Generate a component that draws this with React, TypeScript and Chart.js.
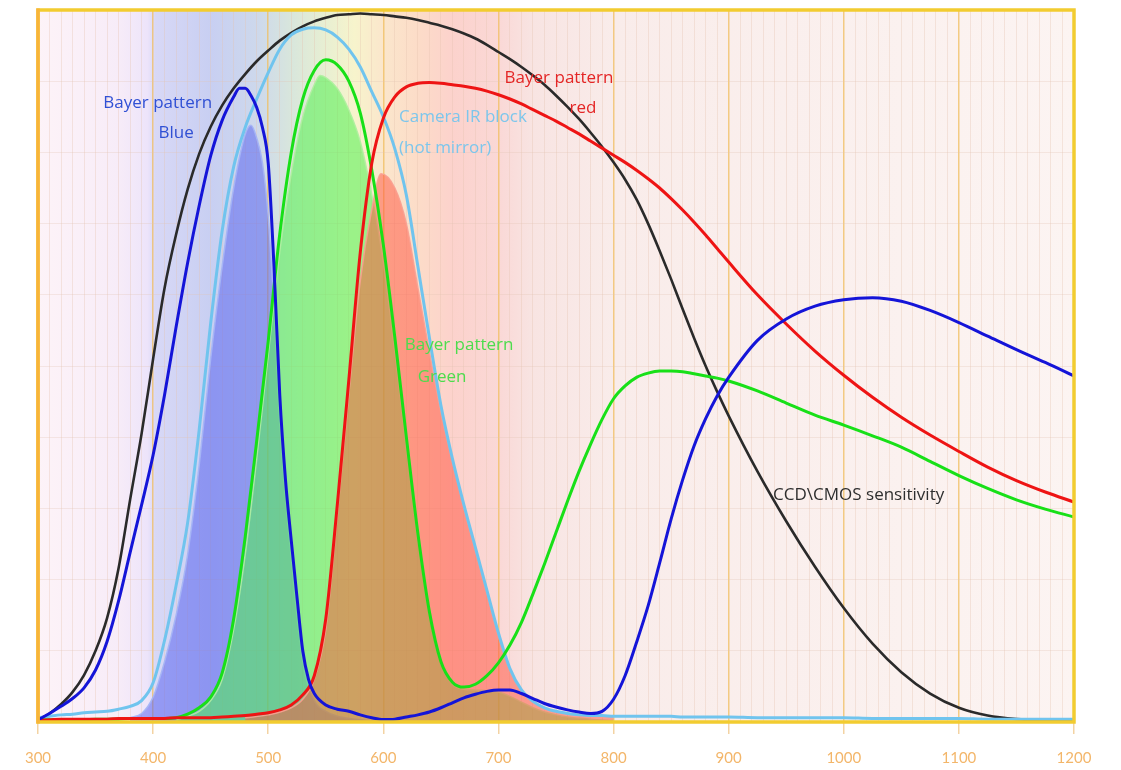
import React, { useEffect, useRef } from "react";
import { Chart, registerables } from "chart.js";

Chart.register(...registerables);

// Wavelength grid (nm) shared by the sensor, IR block, green and red curves
const wavelengths = [
  300, 310, 320, 330, 340, 350, 360, 370, 380, 390,
  400, 410, 420, 430, 440, 450, 460, 470, 480, 490,
  500, 510, 520, 530, 540, 550, 560, 570, 580, 590,
  600, 610, 620, 630, 640, 650, 660, 670, 680, 690,
  700, 710, 720, 730, 740, 750, 760, 770, 780, 790,
  800, 810, 820, 830, 840, 850, 860, 870, 880, 890,
  900, 925, 950, 975, 1000, 1025, 1050, 1075, 1100, 1125,
  1150, 1175, 1200,
];

// CCD\CMOS sensitivity (black)
const sensorCurve = [
  0.3, 1.2, 2.5, 4.2, 6.6, 10.0, 14.6, 21.6, 31.2, 40.5,
  51.0, 61.0, 68.5, 74.8, 79.8, 83.6, 86.6, 89.0, 91.0, 92.8,
  94.3, 95.7, 96.8, 97.7, 98.4, 98.9, 99.3, 99.4, 99.5, 99.4,
  99.3, 99.1, 98.9, 98.6, 98.2, 97.8, 97.3, 96.7, 96.0, 95.1,
  94.1, 93.1, 92.0, 90.8, 89.5, 88.0, 86.4, 84.7, 82.8, 80.8,
  78.6, 76.2, 73.4, 70.0, 66.2, 62.2, 58.0, 53.9, 50.0, 46.4,
  43.0, 35.2, 28.2, 21.8, 16.0, 11.0, 7.0, 4.0, 2.0, 0.9,
  0.4, 0.2, 0.1,
];

// Camera IR block (hot mirror) (light blue)
const irBlockCurve = [
  0.6, 0.8, 1.0, 1.1, 1.3, 1.4, 1.5, 1.8, 2.2, 3.0,
  5.5, 11.5, 19.2, 28.0, 41.0, 56.0, 69.0, 78.0, 83.5, 87.5,
  91.2, 94.5, 96.5, 97.3, 97.5, 97.2, 96.2, 94.5, 92.0, 88.5,
  85.0, 80.5, 74.0, 64.0, 54.0, 44.5, 37.0, 30.5, 24.5, 18.5,
  12.5, 7.5, 4.5, 2.9, 2.0, 1.5, 1.2, 1.0, 0.9, 0.9,
  0.8, 0.8, 0.8, 0.8, 0.8, 0.8, 0.7, 0.7, 0.7, 0.7,
  0.7, 0.6, 0.6, 0.6, 0.6, 0.5, 0.5, 0.5, 0.5, 0.4,
  0.4, 0.4, 0.4,
];

// Bayer pattern Green
const bayerGreen = [
  0.3, 0.3, 0.3, 0.3, 0.3, 0.4, 0.4, 0.4, 0.5, 0.5,
  0.5, 0.5, 0.6, 1.1, 2.0, 3.5, 6.9, 14.5, 26.0, 39.5,
  53.5, 68.5, 80.0, 87.5, 91.5, 93.0, 92.3, 90.0, 85.5, 77.5,
  67.0, 54.0, 40.0, 26.5, 15.5, 8.5, 5.6, 4.9, 5.3, 6.5,
  8.3, 10.8, 14.0, 18.0, 22.2, 26.6, 31.0, 35.2, 39.0, 42.5,
  45.4, 47.2, 48.4, 49.0, 49.3, 49.3, 49.2, 48.9, 48.6, 48.3,
  47.9, 46.5, 44.8, 43.1, 41.7, 40.2, 38.6, 36.6, 34.6, 32.8,
  31.2, 29.9, 28.8,
];

// Bayer pattern red
const bayerRed = [
  0.2, 0.3, 0.4, 0.4, 0.4, 0.4, 0.4, 0.5, 0.5, 0.5,
  0.5, 0.5, 0.6, 0.6, 0.6, 0.6, 0.7, 0.8, 0.9, 1.1,
  1.3, 1.7, 2.4, 3.8, 6.5, 14.5, 30.5, 48.0, 66.0, 78.5,
  84.8, 87.8, 89.2, 89.7, 89.8, 89.7, 89.5, 89.3, 89.0, 88.6,
  88.1, 87.5, 86.8, 86.0, 85.2, 84.4, 83.5, 82.6, 81.6, 80.6,
  79.6, 78.6, 77.5, 76.3, 75.0, 73.5, 71.9, 70.2, 68.4, 66.5,
  64.6, 60.0, 55.9, 52.1, 48.7, 45.6, 42.8, 40.3, 38.0, 35.8,
  33.9, 32.3, 30.9,
];

// Bayer pattern Blue (own, finer grid around its sharp fall)
const blueNm = [
  300, 310, 320, 330, 340, 350, 360, 370, 380, 390,
  400, 410, 420, 430, 440, 450, 460, 470, 475, 480,
  485, 490, 495, 500, 505, 510, 515, 520, 525, 530,
  535, 540, 550, 560, 570, 580, 590, 600, 610, 620,
  630, 640, 650, 660, 670, 680, 690, 700, 710, 720,
  730, 740, 750, 760, 770, 780, 790, 800, 810, 820,
  830, 840, 850, 860, 870, 880, 890, 900, 925, 950,
  975, 1000, 1025, 1050, 1075, 1100, 1125, 1150, 1175, 1200,
];
const bayerBlue = [
  0.3, 1.2, 2.2, 3.3, 4.8, 7.3, 11.3, 17.0, 23.8, 30.5,
  37.5, 46.0, 55.5, 64.5, 72.5, 79.5, 84.5, 87.8, 89.0, 89.0,
  88.0, 86.3, 83.5, 78.5, 64.0, 46.0, 34.0, 25.5, 17.5, 10.0,
  6.0, 4.0, 2.4, 1.8, 1.5, 1.0, 0.6, 0.35, 0.4, 0.7,
  1.0, 1.4, 2.0, 2.7, 3.4, 3.9, 4.3, 4.5, 4.5, 4.0,
  3.3, 2.6, 2.1, 1.7, 1.4, 1.2, 1.5, 3.2, 6.5, 11.2,
  16.3, 22.3, 28.5, 34.0, 38.8, 42.6, 45.8, 48.4, 53.6, 56.6,
  58.4, 59.3, 59.6, 59.1, 57.8, 56.1, 54.2, 52.3, 50.5, 48.6,
];

// Filtered (Bayer x IR block) responses, shown as filled areas
const blueFillNm = [380, 390, 400, 410, 420, 430, 440, 450, 460, 470, 480, 485, 490, 495, 500, 505, 510, 520, 530, 540, 550, 560, 580, 600];
const blueFillVal = [0.6, 1.2, 3.5, 8.5, 15, 23.5, 36, 51, 64, 75, 82.5, 83.8, 82, 78.5, 71, 58, 42, 23, 8.5, 3, 1.5, 0.8, 0.3, 0];

const greenFillNm = [420, 430, 440, 450, 460, 470, 480, 490, 500, 510, 520, 530, 540, 545, 550, 560, 570, 580, 590, 600, 610, 620, 630, 640, 650, 660, 670, 680, 690, 700, 710, 720, 730, 740, 750, 760, 780, 800];
const greenFillVal = [0.3, 0.8, 1.5, 3, 6, 13, 23.5, 37, 51.5, 66, 77, 85, 89.5, 90.8, 90.5, 89, 86, 81.5, 74, 64.5, 52, 38.5, 25.5, 15, 8.2, 5.3, 4.6, 4.5, 4.4, 4.2, 3.6, 2.8, 2.0, 1.4, 1.0, 0.7, 0.4, 0.2];

const redFillNm = [480, 500, 520, 530, 540, 550, 560, 570, 580, 590, 598, 610, 620, 630, 640, 650, 660, 670, 680, 690, 700, 710, 720, 730, 740, 750, 760, 780, 800];
const redFillVal = [0.6, 1.0, 2.0, 3.2, 6, 13, 29, 46, 62, 72, 77, 75, 70, 61, 52, 43.5, 36.5, 30, 24, 18, 12, 7.2, 4.3, 2.8, 1.9, 1.4, 1.1, 0.8, 0.7];

// Axis
const xMin = 300;
const xMax = 1200;
const xLabelStep = 100;

// Spectrum background stops
const bgStopNm = [300, 370, 395, 402, 450, 490, 520, 550, 575, 600, 630, 660, 700, 730, 800, 1200];
const bgStopColor = [
  "#fdf3f8", "#f7ecf8", "#ede4fa", "#d8d8f6", "#c8cff2", "#cdd8ec", "#d8e6dc", "#e8efd2",
  "#f7f4cc", "#fbe6cc", "#fcdcc8", "#fcd2cc", "#fad8d6", "#f8e4e2", "#f9ecea", "#fcf4f2",
];

// Annotations
const noteText = ["Bayer pattern", "Blue", "Camera IR block", "(hot mirror)", "Bayer pattern", "red", "Bayer pattern", "Green", "CCD\\CMOS sensitivity"];
const noteNm = [404, 420, 613.6, 613.6, 752.6, 773.5, 665.8, 651, 938.6];
const noteLevel = [86.9, 82.7, 85.0, 80.6, 90.4, 86.2, 52.9, 48.5, 31.9];
const noteAlign = ["center", "center", "left", "left", "center", "center", "center", "center", "left"];
const noteColor = ["#3050d4", "#3050d4", "#7cc6ec", "#7cc6ec", "#e42626", "#e42626", "#4ddc4d", "#4ddc4d", "#2e2e2e"];

const toPoints = (xs: number[], ys: number[]) => xs.map((x, i) => ({ x, y: ys[i] }));

const spectrumBackground = {
  id: "spectrumBackground",
  beforeDraw(chart: any) {
    const { ctx, chartArea, scales } = chart;
    const xs = scales.x;
    const l = chartArea.left;
    const r = chartArea.right;
    const g = ctx.createLinearGradient(l, 0, r, 0);
    bgStopNm.forEach((nm, i) => {
      const t = (xs.getPixelForValue(nm) - l) / (r - l);
      g.addColorStop(Math.min(1, Math.max(0, t)), bgStopColor[i]);
    });
    ctx.save();
    ctx.fillStyle = g;
    ctx.fillRect(l, chartArea.top, r - l, chartArea.bottom - chartArea.top);
    ctx.restore();
  },
};

const frameAndNotes = {
  id: "frameAndNotes",
  afterDatasetsDraw(chart: any) {
    const { ctx, scales } = chart;
    ctx.save();
    ctx.font = '17px "Open Sans", sans-serif';
    ctx.textBaseline = "middle";
    noteText.forEach((t, i) => {
      ctx.fillStyle = noteColor[i];
      ctx.textAlign = noteAlign[i];
      ctx.fillText(t, scales.x.getPixelForValue(noteNm[i]), scales.y.getPixelForValue(noteLevel[i]));
    });
    ctx.restore();
  },
  afterDraw(chart: any) {
    const { ctx, chartArea } = chart;
    const { left, right, top, bottom } = chartArea;
    ctx.save();
    ctx.lineWidth = 3.5;
    ctx.strokeStyle = "#f2cc30";
    ctx.strokeRect(left, top, right - left, bottom - top);
    ctx.strokeStyle = "#f8b43a";
    ctx.beginPath();
    ctx.moveTo(left, top - 1.5);
    ctx.lineTo(left, bottom + 1.5);
    ctx.stroke();
    ctx.restore();
  },
};

export default function App() {
  const canvasRef = useRef<HTMLCanvasElement>(null);

  useEffect(() => {
    const canvas = canvasRef.current;
    if (!canvas) return;
    const lineCommon = {
      pointRadius: 0,
      borderWidth: 3,
      fill: false,
      cubicInterpolationMode: "monotone" as const,
    };
    const fillCommon = {
      pointRadius: 0,
      borderWidth: 1.5,
      fill: "origin",
      cubicInterpolationMode: "monotone" as const,
    };
    const chart = new Chart(canvas, {
      type: "line",
      data: {
        datasets: [
          { ...lineCommon, label: "Bayer pattern Blue", data: toPoints(blueNm, bayerBlue), borderColor: "#1414d8", order: 1 },
          { ...lineCommon, label: "Bayer pattern red", data: toPoints(wavelengths, bayerRed), borderColor: "#ee1414", order: 2 },
          { ...lineCommon, label: "Bayer pattern Green", data: toPoints(wavelengths, bayerGreen), borderColor: "#18e018", order: 3 },
          { ...lineCommon, label: "Camera IR block", data: toPoints(wavelengths, irBlockCurve), borderColor: "#70c4ee", order: 4 },
          { ...lineCommon, label: "CCD\\CMOS sensitivity", data: toPoints(wavelengths, sensorCurve), borderColor: "#2a2a2a", borderWidth: 2.6, order: 5 },
          { ...fillCommon, label: "red filtered", data: toPoints(redFillNm, redFillVal), borderColor: "rgba(250,160,145,0.9)", backgroundColor: "rgba(255,80,60,0.5)", order: 6 },
          { ...fillCommon, label: "green filtered", data: toPoints(greenFillNm, greenFillVal), borderColor: "rgba(175,240,160,0.9)", backgroundColor: "rgba(80,240,80,0.55)", order: 7 },
          { ...fillCommon, label: "blue filtered", data: toPoints(blueFillNm, blueFillVal), borderColor: "rgba(165,180,245,0.95)", backgroundColor: "rgba(75,85,240,0.48)", order: 8 },
        ],
      },
      options: {
        responsive: false,
        animation: false,
        devicePixelRatio: 1,
        layout: { padding: { left: 38, right: 47, top: 10, bottom: 3 } },
        plugins: { legend: { display: false }, tooltip: { enabled: false } },
        scales: {
          x: {
            type: "linear",
            min: xMin,
            max: xMax,
            border: { display: false },
            afterFit: (s: any) => { s.height = 45; },
            ticks: {
              stepSize: 10,
              autoSkip: false,
              maxRotation: 0,
              padding: 15,
              color: "#f3b66a",
              font: { family: "Lato, 'Open Sans', sans-serif", size: 15 },
              callback: (v: any) => (Number(v) % xLabelStep === 0 ? String(v) : ""),
            },
            grid: {
              tickLength: 12,
              color: (c: any) => (c.tick && c.tick.value % xLabelStep === 0 ? "rgba(240,190,95,0.75)" : "rgba(230,195,175,0.35)"),
              lineWidth: (c: any) => (c.tick && c.tick.value % xLabelStep === 0 ? 1.5 : 1),
              tickColor: (c: any) => (c.tick && c.tick.value % xLabelStep === 0 ? "rgba(240,200,140,0.8)" : "rgba(0,0,0,0)"),
            },
          },
          y: {
            min: 0,
            max: 100,
            border: { display: false },
            ticks: { display: false, stepSize: 10 },
            grid: { drawTicks: false, color: "rgba(225,195,180,0.3)" },
          },
        },
      },
      plugins: [spectrumBackground, frameAndNotes],
    } as any);
    return () => chart.destroy();
  }, []);

  return (
    <div style={{ position: "fixed", left: 0, top: 0, width: 1121, height: 770, background: "#ffffff" }}>
      <canvas ref={canvasRef} width={1121} height={770} style={{ display: "block", width: 1121, height: 770 }} />
    </div>
  );
}
